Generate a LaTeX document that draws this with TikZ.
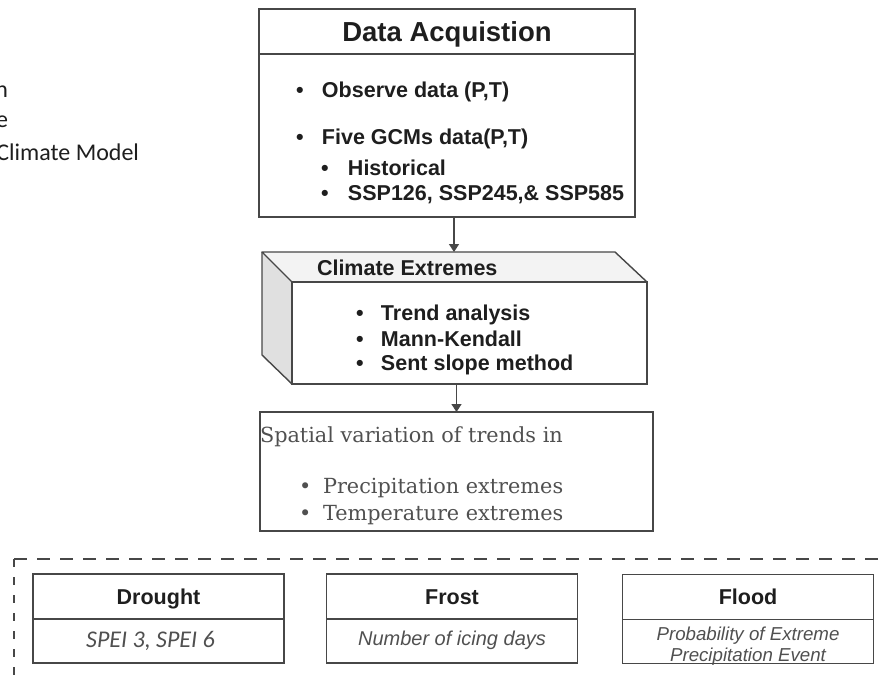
\documentclass[tikz,border=0pt]{standalone}
\usepackage{fontspec}
\setmainfont{Liberation Sans}
\newfontfamily\serifface{DejaVu Serif}
\newfontfamily\calib{Carlito}
\usetikzlibrary{arrows.meta}

\definecolor{edge}{HTML}{474747}
\definecolor{ink}{HTML}{1E1E1E}
\definecolor{soft}{HTML}{505050}
\definecolor{sidegray}{HTML}{E0E0E0}
\definecolor{topgray}{HTML}{F3F3F3}

% bullet followed by text, the text starting #1 after the bullet's left edge
\newcommand\bl[1]{\makebox[#1][l]{\textbullet}}

\begin{document}
\begin{tikzpicture}[x=1pt,y=-1pt,
  every node/.style={inner sep=0pt, outer sep=0pt},
  box/.style={draw=edge, line width=1.4pt, rectangle},
  edgeline/.style={draw=edge, line width=1.4pt},
  arr/.style={draw=edge, line width=1.4pt, -{Triangle[width=10pt,length=8pt]}},
  lbl/.style={font=\fontsize{21.5}{26}\selectfont\bfseries, text=ink},
  head/.style={font=\fontsize{27.5}{32}\selectfont\bfseries, text=ink},
  sertext/.style={font=\serifface\fontsize{20.8}{26}\selectfont, text=soft},
  subtext/.style={font=\fontsize{20}{24}\selectfont\itshape, text=soft},
  legend/.style={font=\calib\fontsize{24}{28}\selectfont, text=ink},
  frame/.style={draw=edge, line width=1.5pt},
  hazard/.style={box, minimum width=251pt, minimum height=89pt}
]
\useasboundingbox (0,0) rectangle (880,675);
\clip (0,0) rectangle (880,675);

% legend fragments on the left
\node[legend, anchor=base east] (lg1) at (8,97) {n};
\node[legend, anchor=base east] (lg2) at (8,127) {e};
\node[legend, anchor=base east] (lg3) at (139,160) {Climate Model};

% data acquisition
\node[box, minimum width=376pt, minimum height=208pt] (daq) at (447,113) {};
\draw[edgeline] ([yshift=-45pt]daq.north west) -- ([yshift=-45pt]daq.north east);
\node[head, anchor=base] (daqt) at (447,41) {Data Acquistion};
\node[lbl, anchor=base west] (d1) at (296,97) {\bl{26pt}Observe data (P,T)};
\node[lbl, anchor=base west] (d2) at (296,144) {\bl{26pt}Five GCMs data(P,T)};
\node[lbl, anchor=base west] (d3) at (321,175) {\bl{27pt}Historical};
\node[lbl, anchor=base west] (d4) at (321,200) {\bl{27pt}SSP126, SSP245,\& SSP585};

% climate extremes block
\coordinate (bk) at (262,252);
\coordinate (bkr) at (615,252);
\coordinate (bkb) at (262,355);
\node[box, minimum width=355pt, minimum height=102pt] (ce) at (469.5,333) {};
\fill[topgray] (bk) -- (bkr) -- (ce.north east) -- (ce.north west) -- cycle;
\fill[sidegray] (bk) -- (ce.north west) -- (ce.south west) -- (bkb) -- cycle;
\draw[edgeline, line join=round] (ce.north west) -- (bk) -- (bkr) -- (ce.north east);
\draw[edgeline, line join=round] (bk) -- (bkb) -- (ce.south west);
\node[box, minimum width=355pt, minimum height=102pt] at (ce.center) {};
\node[lbl, anchor=base west] (cet) at (317,275) {Climate Extremes};
\node[lbl, anchor=base west] (c1) at (356,320) {\bl{25pt}Trend analysis};
\node[lbl, anchor=base west] (c2) at (356,346) {\bl{25pt}Mann-Kendall};
\node[lbl, anchor=base west] (c3) at (356,370) {\bl{25pt}Sent slope method};

% spatial variation
\node[box, minimum width=393pt, minimum height=119pt] (sp) at (456.5,471.5) {};
\node[sertext, anchor=base west] (spt) at (260,442) {Spatial variation of trends in};
\node[sertext, anchor=base west] (s1) at (299,493) {\bl{24pt}Precipitation extremes};
\node[sertext, anchor=base west] (s2) at (299,520) {\bl{24pt}Temperature extremes};

% connectors
\coordinate (in1) at (454,252);
\draw[arr] (daq.south -| in1) -- (in1);
\draw[arr] (ce.south -| sp.north) -- (sp.north);

% dashed group frame
\coordinate (fr) at (14,559);
\coordinate (frr) at (890,559);
\coordinate (frb) at (14,690);
\draw[frame, dash pattern=on 13pt off 10pt] (fr) -- (frr);
\draw[frame, dash pattern=on 8pt off 10pt] (fr) -- (frb);

% hazard boxes
\node[hazard] (dr) at (158.5,618.5) {};
\node[hazard] (fs) at (452,618.5) {};
\node[hazard] (fl) at (748,619) {};
\foreach \b in {dr,fs,fl}
  \draw[edgeline] ([yshift=-45pt]\b.north west) -- ([yshift=-45pt]\b.north east);
\node[lbl, anchor=base] (drt) at (dr.north |- 0,604) {Drought};
\node[lbl, anchor=base] (fst) at (fs.north |- 0,604) {Frost};
\node[lbl, anchor=base] (flt) at (fl.north |- 0,604) {Flood};
\node[font=\calib\fontsize{24}{28}\selectfont\itshape, text=soft, anchor=base] (drs) at (150.5,647) {SPEI 3, SPEI 6};
\node[subtext, anchor=base] (fss) at (fs.north |- 0,645) {Number of icing days};
\node[subtext, font=\fontsize{18.7}{22}\selectfont\itshape, anchor=base] (fls1) at (fl.north |- 0,640) {Probability of Extreme};
\node[subtext, font=\fontsize{18.7}{22}\selectfont\itshape, anchor=base] (fls2) at (fl.north |- 0,661) {Precipitation Event};
\end{tikzpicture}
\end{document}
